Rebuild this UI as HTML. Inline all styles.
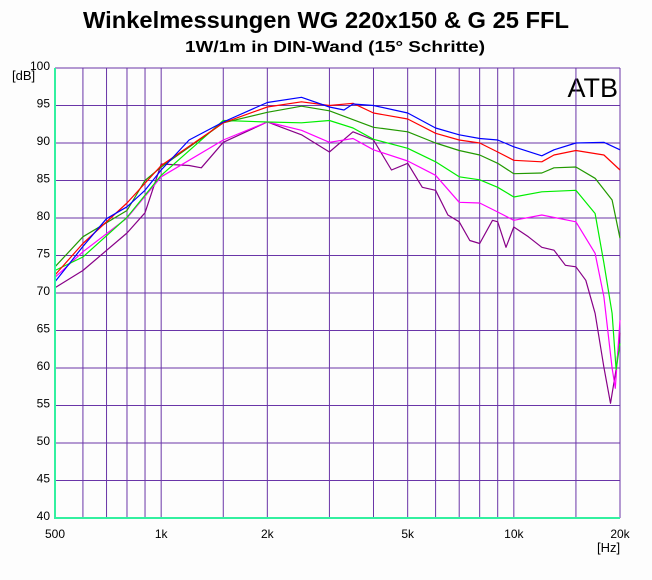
<!DOCTYPE html>
<html><head><meta charset="utf-8"><style>
body{margin:0;background:#fff;}
svg{display:block;font-family:"Liberation Sans",sans-serif;}
</style></head><body>
<svg id="chart" width="652" height="580" viewBox="0 0 652 580">
<rect width="652" height="580" fill="#fdfdfd"/>
<text x="326" y="28" text-anchor="middle" font-size="23" font-weight="bold" textLength="486" lengthAdjust="spacingAndGlyphs" fill="#000">Winkelmessungen WG 220x150 &amp; G 25 FFL</text>
<text x="335" y="52" text-anchor="middle" font-size="16" font-weight="bold" textLength="300" lengthAdjust="spacingAndGlyphs" fill="#000">1W/1m in DIN-Wand (15° Schritte)</text>
<text x="12" y="80" font-size="13" fill="#000">[dB]</text>
<text x="597" y="552" font-size="13" fill="#000">[Hz]</text>
<text x="618" y="97" text-anchor="end" font-size="27" fill="#000">ATB</text>
<g id="grid"></g><g id="series"></g><g id="axes"></g>
</svg>
<script>
const yTicks=[40,45,50,55,60,65,70,75,80,85,90,95,100];
const xGrid=[600,700,800,900,1000,1500,2000,3000,4000,5000,6000,7000,8000,9000,10000,15000,20000];
const xTickVals=[500,1000,2000,5000,10000,20000];
const xTickLabels=["500","1k","2k","5k","10k","20k"];
const freqs0=[500,600,700,800,900,1000,1200,1500,2000,2500,3000,3300,3500,4000,5000,6000,7000,8000,9000,10000,12000,13000,15000,18000,20000];
const blue=[71.5,76.2,79.9,81.5,83.7,86.4,90.4,92.8,95.4,96.1,94.8,94.4,95.2,95.0,94.0,92.0,91.1,90.6,90.4,89.5,88.3,89.1,90.0,90.1,89.1];
const freqs1=[500,600,800,1000,1500,2000,2500,3000,3500,4000,5000,6000,7000,8000,9000,10000,12000,13000,15000,18000,20000];
const red=[72.4,76.6,82.0,87.0,92.7,94.8,95.5,95.0,95.3,94.0,93.2,91.3,90.4,90.0,88.8,87.7,87.5,88.4,89.0,88.4,86.4];
const freqs2=[500,600,800,900,1000,1500,2000,2500,3000,4000,5000,6000,7000,8000,9000,10000,12000,13000,15000,17000,19000,20000];
const darkGreen=[73.5,77.5,81.0,85.0,86.8,92.7,94.1,94.9,94.3,92.1,91.5,90.0,89.0,88.4,87.3,85.9,86.0,86.7,86.8,85.3,82.4,77.3];
const freqs3=[500,600,800,1000,1500,2000,2500,3000,3500,4000,5000,6000,7000,8000,9000,10000,12000,15000,17000,18000,19000,19500,20000];
const lightGreen=[73.0,74.8,80.1,85.7,93.0,92.8,92.7,93.0,92.0,90.5,89.3,87.5,85.5,85.1,84.1,82.8,83.5,83.7,80.6,74.0,67.3,59.8,63.3];
const freqs4=[500,600,800,1000,1500,2000,2500,3000,3500,4000,5000,6000,7000,8000,9000,10000,12000,15000,17000,18000,19000,19400,20000];
const magenta=[72.1,75.5,80.0,85.5,90.4,92.8,91.7,90.1,90.6,89.1,87.6,85.7,82.1,82.0,80.8,79.7,80.4,79.5,75.3,69.5,60.0,57.3,66.4];
const freqs5=[500,600,800,900,1000,1200,1300,1500,2000,2500,3000,3500,4000,4500,5000,5500,6000,6500,7000,7500,8000,8700,9000,9500,10000,11000,12000,13000,14000,15000,16000,17000,18000,18800,19500,20000];
const purple=[70.7,73.0,78.0,80.7,87.2,87.0,86.7,90.1,92.8,91.1,88.8,91.5,90.4,86.4,87.3,84.1,83.7,80.4,79.5,77.0,76.6,79.7,79.5,76.1,78.8,77.5,76.1,75.7,73.7,73.5,71.7,67.3,60.1,55.3,59.8,64.7];

const L=55,R=620,T=68,B=518;
const xs=f=>L+(R-L)*Math.log10(f/500)/Math.log10(40);
const ys=v=>B-(B-T)*(v-40)/60;
const NS="http://www.w3.org/2000/svg";
function mk(tag,attrs,parent){const e=document.createElementNS(NS,tag);for(const k in attrs)e.setAttribute(k,attrs[k]);parent.appendChild(e);return e;}
const grid=document.getElementById('grid'),series=document.getElementById('series'),axes=document.getElementById('axes');
const gc="#6a35a8";
yTicks.forEach(v=>{
  const y=ys(v);
  if(v>40){const ln=mk('line',{x1:L,x2:R,y1:y,y2:y,stroke:gc,'stroke-width':1},grid);
  
  }
  const t=mk('text',{x:50,y:y+2,'text-anchor':'end','font-size':12,fill:'#000'},axes);
  t.textContent=v;
  
  
});
xGrid.forEach(f=>{
  const x=xs(f);
  const ln=mk('line',{x1:x,x2:x,y1:T,y2:B,stroke:gc,'stroke-width':1},grid);
  
  
});
xTickVals.forEach((f,i)=>{
  const t=mk('text',{x:xs(f),y:538,'text-anchor':'middle','font-size':12,fill:'#000'},axes);
  t.textContent=xTickLabels[i];
  
  
});
const ax1=mk('line',{x1:L,x2:L,y1:T,y2:B+1,stroke:'#33f0a0','stroke-width':2},axes);


const ax2=mk('line',{x1:L,x2:R,y1:B,y2:B,stroke:'#33f0a0','stroke-width':2},axes);


const S=[[freqs0,blue,'#0000ff','series-0-deg'],[freqs1,red,'#ff0000','series-15-deg'],[freqs2,darkGreen,'#229900','series-30-deg'],[freqs3,lightGreen,'#00ee00','series-45-deg'],[freqs4,magenta,'#ff00ff','series-60-deg'],[freqs5,purple,'#880088','series-75-deg']];
S.slice().reverse().forEach(([fs,vs,c,n])=>{
  const p=mk('polyline',{points:fs.map((f,i)=>xs(f).toFixed(1)+','+ys(vs[i]).toFixed(1)).join(' '),fill:'none',stroke:c,'stroke-width':1.2,'stroke-linejoin':'round'},series);
  
  
});
</script>
</body></html>
